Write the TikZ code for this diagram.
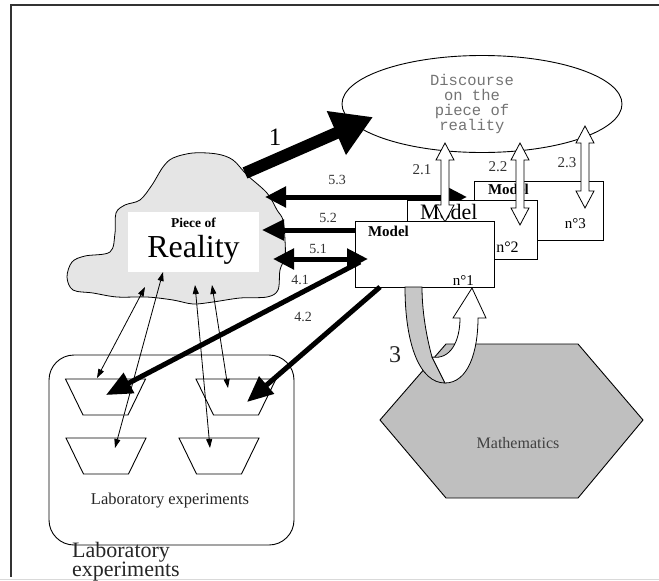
\documentclass[tikz,border=0pt]{standalone}
\usepackage{fontspec}
\setmainfont{Liberation Serif}
\newfontfamily\courier{Liberation Mono}
\usetikzlibrary{arrows.meta,shapes.geometric,calc}

\tikzset{
  modelbox/.style={draw, fill=white, line width=.9pt, inner sep=0pt},
  bigarrow/.style={line width=12pt, -{Triangle[length=40pt,width=45pt]}},
  fatarrow/.style={line width=5pt, -{Triangle[length=22pt,width=20pt]}},
  fatboth/.style={line width=5pt, {Triangle[length=21pt,width=20pt]}-{Triangle[length=21pt,width=20pt]}},
  slimboth/.style={line width=.8pt, {Triangle[length=9pt,width=6pt]}-{Triangle[length=9pt,width=6pt]}},
  hollowline/.style={draw, fill=white, line width=.8pt},
  numlbl/.style={font=\fontsize{14}{14}\selectfont, text=black!80},
}

% hollow double arrow from tip #1 (top) to tip #2 (bottom)
\newcommand{\hollowarrow}[2]{%
  \draw[hollowline] (#1) -- ++(9,17) -- ++(-5,0) -- ($(#2)+(4,-17)$) -- ++(5,0)
    -- (#2) -- ++(-9,-17) -- ++(5,0) -- ($(#1)+(-4,17)$) -- ++(-5,0) -- cycle;}

\begin{document}
\begin{tikzpicture}[x=1pt, y=-1pt]
\useasboundingbox (0,0) rectangle (659,581);
% frame
\draw[black!80, line width=1.2pt] (659,5) -- (11,5) -- (11,577);
\draw[black!15, line width=1pt] (0,579) -- (659,579);

% discourse
\node[ellipse, draw, line width=.9pt, minimum width=280pt, minimum height=97pt, inner sep=0pt] (disc) at (482,104) {};
\node[text=black!55, font=\courier\fontsize{15.5}{14.7}\selectfont, align=center] (disctext) at (472,104) {Discourse\\on the\\piece of\\reality};

% piece of reality
\draw[fill=black!10, line width=.8pt] plot[smooth cycle, tension=.55] coordinates {
  (67,277) (72,262) (85,256) (110,252) (115,233) (116,213) (125,205) (140,200)
  (152,185) (163,167) (173,158) (193,153) (217,154) (233,160) (247,175) (267,193)
  (277,210) (283,220) (285,240) (285,257) (280,270) (278,290) (267,297) (240,298)
  (213,302) (193,304) (173,300) (147,297) (117,297) (93,293) (73,290)};
\node[fill=white, minimum width=131pt, minimum height=60pt, inner sep=0pt] (reality) at (193.5,242) {};
\node[anchor=base, font=\bfseries\fontsize{13.5}{13.5}\selectfont] (piece) at (193.5,227) {Piece of};
\node[anchor=base, font=\fontsize{32}{32}\selectfont] (realtext) at (193.5,257) {Reality};

% 1
\coordinate (r1) at (245,173);
\coordinate (d1) at (373,117);
\draw[bigarrow] (r1) -- (d1);
\node[font=\fontsize{25}{25}\selectfont] (one) at (275,137) {1};

% 5.3
\coordinate (r53) at (265,197);
\coordinate (m53) at (467,197);
\draw[fatboth] (r53) -- (m53);
\node[numlbl] (l53) at (337,180) {5.3};

% models
\node[modelbox, minimum width=129pt, minimum height=59pt] (mod3) at (538.5,210.5) {};
\node[anchor=west, font=\bfseries\fontsize{15}{15}\selectfont] at ([shift={(11,9)}]mod3.north west) {Model};
\node[font=\fontsize{15}{15}\selectfont] at ([shift={(-28,-17)}]mod3.south east) {n°3};

\node[modelbox, minimum width=130pt, minimum height=59pt] (mod2) at (472,229.5) {};
\node[anchor=west, font=\fontsize{22}{22}\selectfont] at ([shift={(10,12)}]mod2.north west) {Model};
\node[font=\fontsize{16}{16}\selectfont] at ([shift={(-30,-12)}]mod2.south east) {n°2};

% 2.x
\coordinate (d21) at (445,143); \coordinate (m21) at (445,222);
\coordinate (d22) at (520,143); \coordinate (m22) at (520,225);
\coordinate (d23) at (585,126); \coordinate (m23) at (585,208);
\hollowarrow{d21}{m21}
\hollowarrow{d22}{m22}
\hollowarrow{d23}{m23}
\node[numlbl, font=\fontsize{15}{15}\selectfont] (l21) at (422,170) {2.1};
\node[numlbl, font=\fontsize{15}{15}\selectfont] (l22) at (498,167) {2.2};
\node[numlbl, font=\fontsize{15}{15}\selectfont] (l23) at (567,163) {2.3};

\node[modelbox, minimum width=139pt, minimum height=66pt] (mod1) at (424.5,254) {};
\node[anchor=west, font=\bfseries\fontsize{15}{15}\selectfont] at ([shift={(10,11)}]mod1.north west) {Model};
\node[font=\fontsize{15}{15}\selectfont] at ([shift={(-31,-7)}]mod1.south east) {n°1};

% 5.2, 5.1
\coordinate (m52) at (355,230); \coordinate (r52) at (262,230);
\draw[fatarrow] (m52) -- (r52);
\node[numlbl] (l52) at (328,218) {5.2};
\coordinate (r51) at (273,259); \coordinate (m51) at (368,259);
\draw[fatboth] (r51) -- (m51);
\node[numlbl] (l51) at (318,249) {5.1};

% laboratory
\node[draw, line width=.9pt, rounded corners=25pt, minimum width=245pt, minimum height=190pt] (lab) at (171.5,450) {};
\foreach \cx/\cy in {105.5/379, 236/379, 106/438, 219/438}
{
  \draw[line width=.9pt] (\cx-40,\cy) -- (\cx+40,\cy) -- (\cx+22.5,\cy+36) -- (\cx-22.5,\cy+36) -- cycle;
}
\node[anchor=base, font=\fontsize{16.5}{16.5}\selectfont, text=black!85] (labtext) at (170,504) {Laboratory experiments};
\node[anchor=north west, inner sep=0pt, align=left, font=\fontsize{22}{19.5}\selectfont, text=black!85] (labbig) at (72,542) {Laboratory\\experiments};

% 4.x
\coordinate (m41) at (360,262); \coordinate (t41) at (106,395);
\coordinate (m42) at (380,287); \coordinate (t42) at (247,402);
\draw[line width=5pt, -{Triangle[length=26pt,width=22pt]}] (m41) -- (t41);
\draw[line width=5pt, -{Triangle[length=26pt,width=22pt]}] (m42) -- (t42);
\node[numlbl] (l41) at (300,280) {4.1};
\node[numlbl] (l42) at (303,317) {4.2};

% thin links cloud - experiments
\coordinate (ra) at (145,287); \coordinate (ta) at (97,378);
\coordinate (rb) at (163,272); \coordinate (tb) at (115,448);
\coordinate (rc) at (195,285); \coordinate (tc) at (210,448);
\coordinate (rd) at (212,285); \coordinate (td) at (228,388);
\draw[slimboth] (ra) -- (ta);
\draw[slimboth] (rb) -- (tb);
\draw[slimboth] (rc) -- (tc);
\draw[slimboth] (rd) -- (td);

% mathematics
\draw[fill=black!25, line width=.9pt] (446,344) -- (578,344) -- (643,420) -- (578,498) -- (446,498) -- (380,420) -- cycle;
\node[anchor=base, font=\fontsize{16}{16}\selectfont, text=black!75] (math) at (518,448) {Mathematics};

% 3
\draw[fill=black!22, line width=.8pt] (405,287) .. controls (405,345) and (420,383) .. (445,383)
  -- (432,357) .. controls (426,335) and (422,310) .. (422,287) -- cycle;
\draw[fill=white, line width=.8pt] (445,383) .. controls (468,383) and (478,352) .. (478,318)
  -- (486,318) -- (472,288) -- (453,318) -- (460,318) .. controls (460,342) and (450,360) .. (432,357) -- cycle;
\node[anchor=base, font=\fontsize{24}{24}\selectfont, text=black!85] (three) at (395,362) {3};
\end{tikzpicture}
\end{document}
